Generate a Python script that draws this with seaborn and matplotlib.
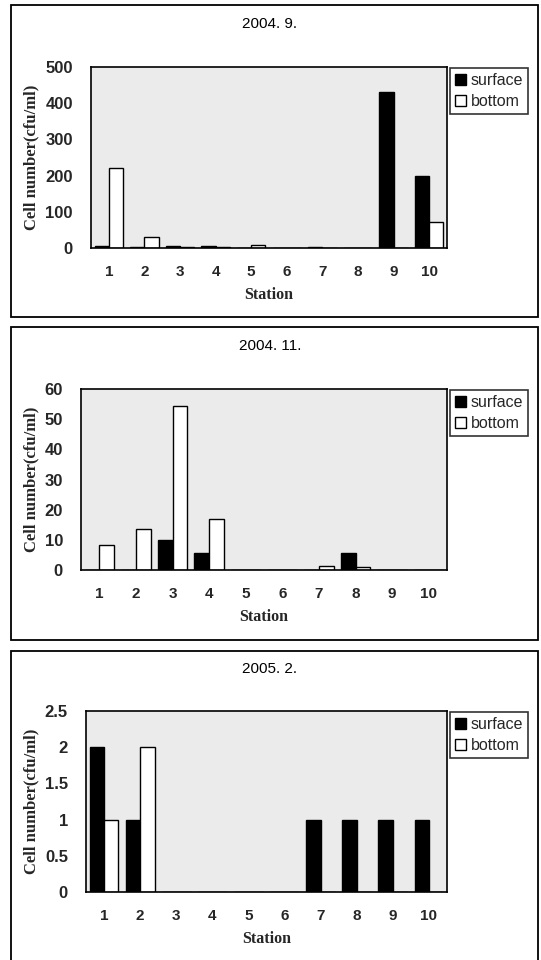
import numpy as np
import pandas as pd
import matplotlib
matplotlib.use("Agg")
import matplotlib.pyplot as plt
import seaborn as sns
from matplotlib.patches import Rectangle, Patch

sns.set_theme(style="white")
plt.rcParams['font.family'] = ['Liberation Sans', 'DejaVu Sans']

stations = [str(i) for i in range(1, 11)]
series = ["surface", "bottom"]

titles = ["2004. 9.", "2004. 11.", "2005. 2."]

sep_surface = [6, 2, 5, 6, 1, 1, 2, 1, 431, 200]
sep_bottom = [220, 30, 2, 4, 7, 0, 1, 0, 0, 72]

nov_surface = [0, 0, 10, 5.7, 0, 0, 0, 5.8, 0, 0]
nov_bottom = [8.3, 13.5, 54.3, 16.9, 0, 0, 1.3, 0.9, 0, 0]

feb_surface = [2, 1, 0, 0, 0, 0, 1, 1, 1, 1]
feb_bottom = [1, 2, 0, 0, 0, 0, 0, 0, 0, 0]

yticks_list = [[0, 100, 200, 300, 400, 500],
               [0, 10, 20, 30, 40, 50, 60],
               [0, 0.5, 1, 1.5, 2, 2.5]]
ytick_labels = [["0", "100", "200", "300", "400", "500"],
                ["0", "10", "20", "30", "40", "50", "60"],
                ["0", "0.5", "1", "1.5", "2", "2.5"]]

data_sets = [(sep_surface, sep_bottom), (nov_surface, nov_bottom), (feb_surface, feb_bottom)]

W, H = 541, 960
fig = plt.figure(figsize=(W / 100, H / 100), dpi=100)

layouts = [
    dict(left=91, top=67, bottom=248, title=24, box=(5, 317)),
    dict(left=81, top=389, bottom=570, title=346, box=(327, 640)),
    dict(left=86, top=711, bottom=892, title=669, box=(651, 962)),
]
right = 447

for k, (lay, (surf, bot)) in enumerate(zip(layouts, data_sets)):
    b0, b1 = lay["box"]
    fig.patches.append(Rectangle((11 / W, 1 - b1 / H), (538 - 11) / W, (b1 - b0) / H,
                                 transform=fig.transFigure, fill=False,
                                 edgecolor="black", linewidth=1.3))
    fig.text(270 / W, 1 - lay["title"] / H, titles[k], ha="center", va="center",
             fontsize=11, color="black")

    ax = fig.add_axes([lay["left"] / W, 1 - lay["bottom"] / H,
                       (right - lay["left"]) / W, (lay["bottom"] - lay["top"]) / H])
    df = pd.DataFrame({
        "Station": stations * 2,
        "series": ["surface"] * 10 + ["bottom"] * 10,
        "value": list(surf) + list(bot),
    })
    sns.barplot(data=df, x="Station", y="value", hue="series", order=stations,
                hue_order=series, palette=["black", "white"], edgecolor="black",
                linewidth=1.0, width=0.8, ax=ax, legend=False)
    ax.set_facecolor("#ebebeb")
    for s in ax.spines.values():
        s.set_visible(True)
        s.set_color("black")
        s.set_linewidth(1.2)
    ax.set_ylim(yticks_list[k][0], yticks_list[k][-1])
    ax.set_xlim(-0.5, 9.5)
    ax.set_yticks(yticks_list[k])
    ax.set_yticklabels(ytick_labels[k], fontsize=12, fontweight="bold")
    ax.tick_params(axis="y", direction="out", length=3, width=1, color="black", pad=10)
    ax.tick_params(axis="x", length=0, pad=12, labelsize=11)
    for t in ax.get_xticklabels():
        t.set_fontweight("bold")
    ax.set_xticks(np.arange(10) - 0.5, minor=True)
    ax.tick_params(axis="x", which="minor", direction="in", length=3, width=1, color="black")
    ax.set_xlabel("Station", family=["Liberation Serif", "DejaVu Serif"], fontsize=11.5,
                  fontweight="bold", labelpad=6)
    ax.set_ylabel("Cell number(cfu/ml)", family=["Liberation Serif", "DejaVu Serif"],
                  fontsize=12, fontweight="bold", labelpad=4)
    ax.grid(False)

    handles = [Patch(facecolor="black", edgecolor="black", label="surface"),
               Patch(facecolor="white", edgecolor="black", label="bottom")]
    leg = fig.legend(handles=handles, loc="upper left",
                     bbox_to_anchor=(450 / W, 1 - (lay["top"] + 1) / H),
                     bbox_transform=fig.transFigure, frameon=True, fancybox=False,
                     fontsize=11.5, handlelength=0.7, handleheight=0.7, handletextpad=0.3,
                     borderpad=0.3, labelspacing=0.4, borderaxespad=0)
    leg.get_frame().set_edgecolor("black")
    leg.get_frame().set_linewidth(1.2)

fig.savefig("out.png", dpi=100, facecolor="white")
